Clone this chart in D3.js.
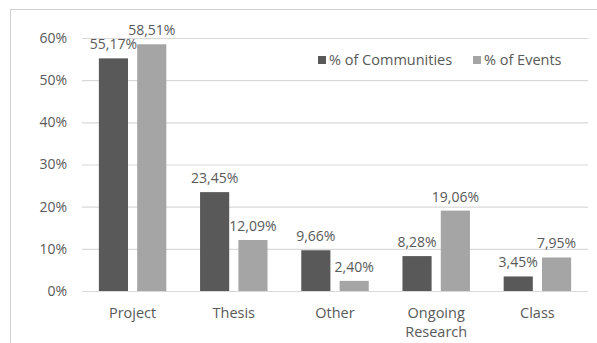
<!DOCTYPE html>
<html>
<head>
<meta charset="utf-8">
<script src="https://cdn.jsdelivr.net/npm/d3@7"></script>
<style>
  body { margin: 0; background: #fff; }
  text { font-family: "Open Sans", "Liberation Sans", sans-serif; fill: #595959; }
</style>
</head>
<body>
<div id="chart"></div>
<script>
// categories and the two series
const categories = ["Project", "Thesis", "Other", "Ongoing Research", "Class"];
const communities = [55.17, 23.45, 9.66, 8.28, 3.45];
const events = [58.51, 12.09, 2.40, 19.06, 7.95];
const seriesNames = ["% of Communities", "% of Events"];
const yTicks = [0, 10, 20, 30, 40, 50, 60];

const dims = { width: 597, height: 343, left: 82, right: 588, top: 38, bottom: 291 };
const colors = ["#595959", "#a5a5a5"];

const svg = d3.select("#chart").append("svg")
    .attr("width", dims.width)
    .attr("height", dims.height);

// outer frame (only top and left are visible in the original crop)
svg.append("path")
    .attr("d", `M10.5,${dims.height} V9.5 H${dims.width}`)
    .attr("fill", "none")
    .attr("stroke", "#d0d0d0");

const x = d3.scaleBand()
    .domain(categories)
    .range([dims.left, dims.right]);

const xInner = d3.scaleBand()
    .domain(seriesNames)
    .range([0, x.bandwidth()])
    .paddingInner(0.24)
    .paddingOuter(0.44);

const y = d3.scaleLinear()
    .domain([0, 60])
    .range([dims.bottom, dims.top]);

// gridlines + y labels
const yAxis = g => g
    .attr("transform", `translate(${dims.left},0)`)
    .call(d3.axisLeft(y).tickValues(yTicks).tickSize(-(dims.right - dims.left)).tickFormat(d => d + "%"))
    .call(g => g.select(".domain").remove())
    .call(g => g.selectAll(".tick line").attr("stroke", "#d9d9d9").attr("stroke-width", 1.2))
    .call(g => g.selectAll(".tick text").attr("x", -15).attr("font-size", 14).attr("fill", "#595959"));
svg.append("g").call(yAxis);

const rows = categories.map((c, i) => ({ cat: c, values: [communities[i], events[i]] }));

const groups = svg.append("g")
    .selectAll("g")
    .data(rows)
    .join("g")
    .attr("transform", d => `translate(${x(d.cat)},0)`);

groups.selectAll("rect")
    .data(d => d.values.map((v, k) => ({ v, s: seriesNames[k], k })))
    .join("rect")
    .attr("x", d => xInner(d.s))
    .attr("y", d => y(d.v))
    .attr("width", xInner.bandwidth())
    .attr("height", d => y(0) - y(d.v))
    .attr("fill", d => colors[d.k]);

groups.selectAll("text.val")
    .data(d => d.values.map((v, k) => ({ v, s: seriesNames[k], k })))
    .join("text")
    .attr("class", "val")
    .attr("x", d => xInner(d.s) + xInner.bandwidth() / 2)
    .attr("y", d => y(d.v) - 9)
    .attr("text-anchor", "middle")
    .attr("font-size", 14)
    .text(d => d.v.toFixed(2).replace(".", ",") + "%");

// category labels, wrapped on spaces for "Ongoing Research"
const xLabels = svg.append("g")
    .selectAll("text")
    .data(categories)
    .join("text")
    .attr("x", d => x(d) + x.bandwidth() / 2)
    .attr("y", 318)
    .attr("text-anchor", "middle")
    .attr("font-size", 14.5);
xLabels.each(function (d) {
    const words = d.split(" ");
    const t = d3.select(this);
    words.forEach((w, i) => {
        t.append("tspan")
            .attr("x", x(d) + x.bandwidth() / 2)
            .attr("dy", i === 0 ? 0 : 19)
            .text(w);
    });
});

// legend
const legend = svg.append("g")
    .selectAll("g")
    .data(seriesNames)
    .join("g")
    .attr("transform", (d, i) => `translate(${[318, 473][i]},56)`);
legend.append("rect")
    .attr("width", 8)
    .attr("height", 8)
    .attr("fill", (d, i) => colors[i]);
legend.append("text")
    .attr("x", 11)
    .attr("y", 9)
    .attr("font-size", 14.5)
    .text(d => d);
</script>
</body>
</html>
